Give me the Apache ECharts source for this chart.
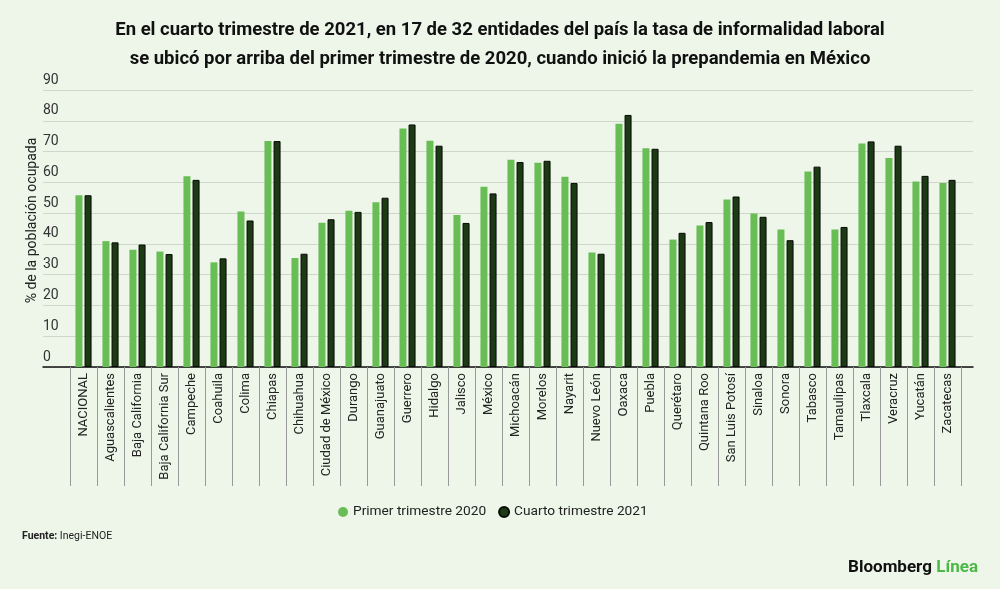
<!DOCTYPE html>
<html>
<head>
<meta charset="utf-8">
<script src="https://cdn.jsdelivr.net/npm/echarts@6/dist/echarts.min.js"></script>
<style>
  html, body { margin: 0; padding: 0; background: #edf6e9; }
  #chart { width: 1000px; height: 589px; }
</style>
</head>
<body>
<div id="chart"></div>
<script>
const entidades = [
  'NACIONAL', 'Aguascalientes', 'Baja California', 'Baja California Sur', 'Campeche',
  'Coahuila', 'Colima', 'Chiapas', 'Chihuahua', 'Ciudad de México', 'Durango',
  'Guanajuato', 'Guerrero', 'Hidalgo', 'Jalisco', 'México', 'Michoacán', 'Morelos',
  'Nayarit', 'Nuevo León', 'Oaxaca', 'Puebla', 'Querétaro', 'Quintana Roo',
  'San Luis Potosí', 'Sinaloa', 'Sonora', 'Tabasco', 'Tamaulipas', 'Tlaxcala',
  'Veracruz', 'Yucatán', 'Zacatecas'
];
// Primer trimestre 2020
const primer2020 = [
  55.8, 40.9, 38.1, 37.5, 62.0, 34.0, 50.5, 73.4, 35.4, 46.9, 50.8,
  53.5, 77.5, 73.5, 49.4, 58.6, 67.3, 66.4, 61.8, 37.2, 79.0, 71.1,
  41.4, 46.0, 54.4, 49.9, 44.7, 63.5, 44.7, 72.6, 67.9, 60.3, 59.8
];
// Cuarto trimestre 2021
const cuarto2021 = [
  55.8, 40.5, 39.8, 36.7, 60.8, 35.3, 47.6, 73.4, 36.8, 48.0, 50.4,
  55.0, 78.8, 71.9, 46.8, 56.4, 66.6, 67.0, 59.8, 36.8, 81.9, 70.9,
  43.6, 47.1, 55.4, 48.8, 41.2, 65.1, 45.5, 73.3, 71.9, 62.1, 60.8
];
const yTicks = [0, 10, 20, 30, 40, 50, 60, 70, 80, 90];

const font = 'Roboto, "Noto Sans", sans-serif';
const chart = echarts.init(document.getElementById('chart'));

chart.setOption({
  backgroundColor: '#edf6e9',
  textStyle: { fontFamily: font },
  title: [
    {
      text: 'En el cuarto trimestre de 2021, en 17 de 32 entidades del país la tasa de informalidad laboral\nse ubicó por arriba del primer trimestre de 2020, cuando inició la prepandemia en México',
      left: 'center', top: 16, padding: 0,
      textStyle: { fontSize: 18.5, fontWeight: 'bold', color: '#111', lineHeight: 29, fontFamily: font }
    },
    {
      text: '{b|Fuente:} Inegi-ENOE',
      left: 22, top: 531, padding: 0,
      textStyle: {
        fontSize: 10.5, fontWeight: 'normal', color: '#222', fontFamily: font,
        rich: { b: { fontSize: 10.5, fontWeight: 'bold', color: '#222', fontFamily: font } }
      }
    },
    {
      text: '{a|Bloomberg} {g|Línea}',
      right: 22, top: 559, padding: 0,
      textStyle: {
        rich: {
          a: { fontSize: 17, fontWeight: 'bold', color: '#111', fontFamily: font },
          g: { fontSize: 17, fontWeight: 'bold', color: '#4cb847', fontFamily: font }
        }
      }
    }
  ],
  legend: {
    top: 505, left: 338, padding: 0,
    icon: 'circle', itemWidth: 10, itemHeight: 10, itemGap: 12,
    textStyle: { fontSize: 13.7, color: '#222', fontFamily: font },
    data: ['Primer trimestre 2020', 'Cuarto trimestre 2021']
  },
  grid: [
    { left: 43, right: 27, top: 90, height: 277, outerBoundsMode: 'none' },
    { left: 70, right: 39, top: 90, height: 277, outerBoundsMode: 'none' }
  ],
  xAxis: [
    {
      gridIndex: 0, type: 'category', data: [''],
      axisLine: { lineStyle: { color: '#111', width: 1.5 } },
      axisTick: { show: false }, axisLabel: { show: false }
    },
    {
      gridIndex: 1, type: 'category', data: entidades,
      axisLine: { show: false },
      axisTick: { show: true, length: 119, interval: 0, lineStyle: { color: '#999', width: 1 } },
      axisLabel: { interval: 0, rotate: 90, margin: 6, fontSize: 13, color: '#222', fontFamily: font }
    }
  ],
  yAxis: [
    {
      gridIndex: 0, type: 'value', min: 0, max: 90, interval: 10,
      name: '% de la población ocupada', nameLocation: 'middle', nameGap: 4,
      nameRotate: 90, nameMoveOverlap: false,
      nameTextStyle: { fontSize: 14, color: '#222', fontFamily: font, padding: [0, 0, 0, 16] },
      axisLine: { show: false }, axisTick: { show: false },
      splitLine: { lineStyle: { color: '#cfd6cc', width: 1 } },
      axisLabel: {
        inside: true, margin: 0, align: 'left', verticalAlign: 'bottom',
        padding: [0, 0, 3, 0], fontSize: 14, color: '#333', fontFamily: font,
        formatter: v => (yTicks.includes(v) ? String(v) : '')
      }
    },
    {
      gridIndex: 1, type: 'value', min: 0, max: 90, interval: 10, show: false
    }
  ],
  series: [
    {
      name: 'Primer trimestre 2020', type: 'bar',
      xAxisIndex: 1, yAxisIndex: 1,
      data: primer2020, barWidth: 7, barGap: '30%',
      itemStyle: { color: '#68bd55' }
    },
    {
      name: 'Cuarto trimestre 2021', type: 'bar',
      xAxisIndex: 1, yAxisIndex: 1,
      data: cuarto2021, barWidth: 7,
      itemStyle: { color: '#1c3a14', borderColor: '#070a05', borderWidth: 1 }
    }
  ]
});
</script>
</body>
</html>
